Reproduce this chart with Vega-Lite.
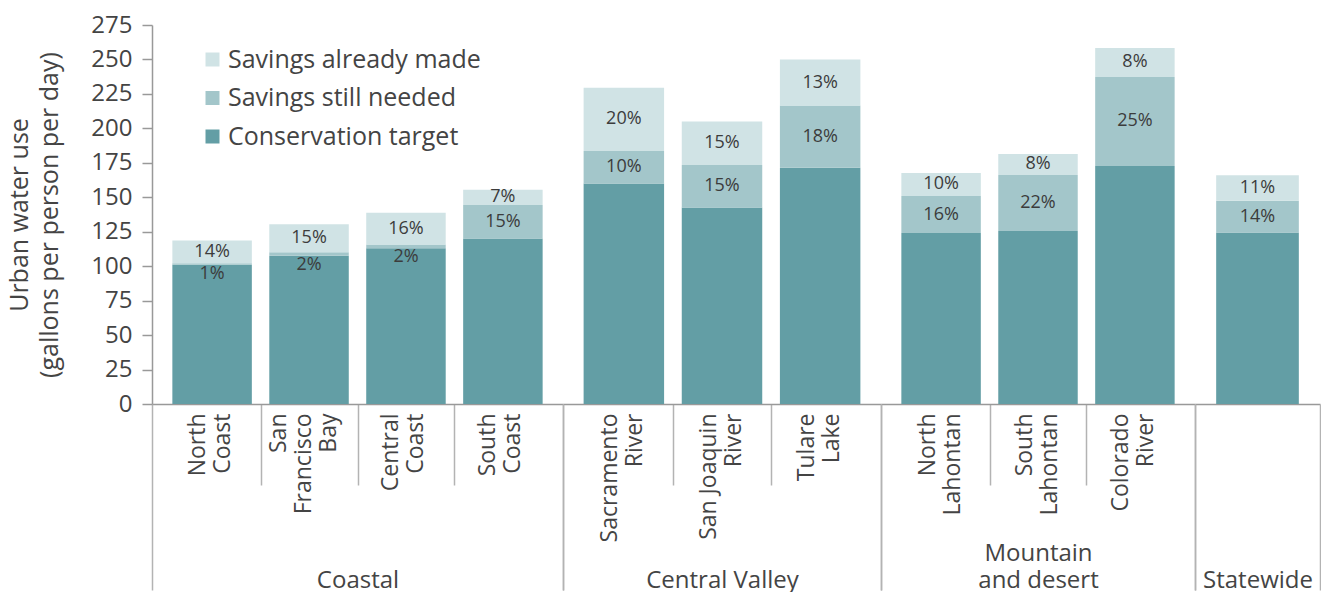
{
  "$schema": "https://vega.github.io/schema/vega-lite/v6.json",
  "padding": {"left": 7, "top": 13, "right": 0, "bottom": 0},
  "data": {"values": [
    {"region": "North Coast", "group": "Coastal", "category": "Conservation target", "value": 101, "label": null},
    {"region": "North Coast", "group": "Coastal", "category": "Savings still needed", "value": 1.2, "label": "1%"},
    {"region": "North Coast", "group": "Coastal", "category": "Savings already made", "value": 16.5, "label": "14%"},
    {"region": "San Francisco Bay", "group": "Coastal", "category": "Conservation target", "value": 107.5, "label": null},
    {"region": "San Francisco Bay", "group": "Coastal", "category": "Savings still needed", "value": 2.6, "label": "2%"},
    {"region": "San Francisco Bay", "group": "Coastal", "category": "Savings already made", "value": 20.3, "label": "15%"},
    {"region": "Central Coast", "group": "Coastal", "category": "Conservation target", "value": 113, "label": null},
    {"region": "Central Coast", "group": "Coastal", "category": "Savings still needed", "value": 2.8, "label": "2%"},
    {"region": "Central Coast", "group": "Coastal", "category": "Savings already made", "value": 23, "label": "16%"},
    {"region": "South Coast", "group": "Coastal", "category": "Conservation target", "value": 120, "label": null},
    {"region": "South Coast", "group": "Coastal", "category": "Savings still needed", "value": 24.4, "label": "15%"},
    {"region": "South Coast", "group": "Coastal", "category": "Savings already made", "value": 11.1, "label": "7%"},
    {"region": "Sacramento River", "group": "Central Valley", "category": "Conservation target", "value": 160, "label": null},
    {"region": "Sacramento River", "group": "Central Valley", "category": "Savings still needed", "value": 23.5, "label": "10%"},
    {"region": "Sacramento River", "group": "Central Valley", "category": "Savings already made", "value": 46, "label": "20%"},
    {"region": "San Joaquin River", "group": "Central Valley", "category": "Conservation target", "value": 142.5, "label": null},
    {"region": "San Joaquin River", "group": "Central Valley", "category": "Savings still needed", "value": 31, "label": "15%"},
    {"region": "San Joaquin River", "group": "Central Valley", "category": "Savings already made", "value": 31.5, "label": "15%"},
    {"region": "Tulare Lake", "group": "Central Valley", "category": "Conservation target", "value": 171.5, "label": null},
    {"region": "Tulare Lake", "group": "Central Valley", "category": "Savings still needed", "value": 45, "label": "18%"},
    {"region": "Tulare Lake", "group": "Central Valley", "category": "Savings already made", "value": 33.5, "label": "13%"},
    {"region": "North Lahontan", "group": "Mountain and desert", "category": "Conservation target", "value": 124, "label": null},
    {"region": "North Lahontan", "group": "Mountain and desert", "category": "Savings still needed", "value": 27, "label": "16%"},
    {"region": "North Lahontan", "group": "Mountain and desert", "category": "Savings already made", "value": 16.6, "label": "10%"},
    {"region": "South Lahontan", "group": "Mountain and desert", "category": "Conservation target", "value": 125.5, "label": null},
    {"region": "South Lahontan", "group": "Mountain and desert", "category": "Savings still needed", "value": 40.7, "label": "22%"},
    {"region": "South Lahontan", "group": "Mountain and desert", "category": "Savings already made", "value": 15.2, "label": "8%"},
    {"region": "Colorado River", "group": "Mountain and desert", "category": "Conservation target", "value": 172.7, "label": null},
    {"region": "Colorado River", "group": "Mountain and desert", "category": "Savings still needed", "value": 64.6, "label": "25%"},
    {"region": "Colorado River", "group": "Mountain and desert", "category": "Savings already made", "value": 21, "label": "8%"},
    {"region": "Statewide", "group": "Statewide", "category": "Conservation target", "value": 124.5, "label": null},
    {"region": "Statewide", "group": "Statewide", "category": "Savings still needed", "value": 23, "label": "14%"},
    {"region": "Statewide", "group": "Statewide", "category": "Savings already made", "value": 18.5, "label": "11%"}
  ]},
  "transform": [
    {"calculate": "indexof(['Conservation target','Savings still needed','Savings already made'], datum.category)", "as": "ord"},
    {"stack": "value", "groupby": ["region"], "sort": [{"field": "ord", "order": "ascending"}], "as": ["v0", "v1"]},
    {"calculate": "(datum.v0 + datum.v1) / 2", "as": "mid"}
  ],
  "spacing": 0,
  "bounds": "flush",
  "hconcat": [
    {
      "width": 411, "height": 379,
      "transform": [{"filter": "datum.group === 'Coastal'"}],
      "layer": [
        {"layer": [
          {"mark": {"type": "bar", "width": {"band": 0.82}},
           "encoding": {
             "x": {"field": "region", "type": "nominal", "sort": ["North Coast", "San Francisco Bay", "Central Coast", "South Coast"], "scale": {"paddingInner": 0, "paddingOuter": 0.12},
               "axis": {"title": null, "orient": "bottom", "labelAngle": -90, "labelAlign": "right", "labelBaseline": "middle", "labelPadding": -72, "labelFontSize": 23, "labelLineHeight": 25, "labelColor": "#444", "labelOffset": {"condition": {"test": "datum.value == 'San Francisco Bay'", "value": -31}, "value": -15}, "tickBand": "extent", "tickSize": 81, "tickColor": "#b3b3b3", "tickWidth": 1.5, "tickOpacity": {"condition": {"test": "datum.index >= 0 && datum.index < 0.99", "value": 1}, "value": 0}, "domainColor": "#999", "domainWidth": 1.5,
                 "labelExpr": "datum.label == 'San Francisco Bay' ? ['San','Francisco','Bay'] : split(datum.label, ' ')"}},
             "y": {"field": "v0", "type": "quantitative", "scale": {"domain": [0, 275], "nice": false},
               "axis": {"title": ["Urban water use", "(gallons per person per day)"], "values": [0, 25, 50, 75, 100, 125, 150, 175, 200, 225, 250, 275], "grid": false, "tickSize": 10, "tickColor": "#999", "tickWidth": 1.5, "domainColor": "#999", "domainWidth": 1.5, "labelFontSize": 24, "labelColor": "#444", "labelPadding": 10, "labelFlush": false, "labelOverlap": false, "titleFontSize": 25, "titleFontWeight": "normal", "titleColor": "#444", "titlePadding": 28, "titleLineHeight": 30}},
             "y2": {"field": "v1"},
             "color": {"field": "category", "type": "nominal", "scale": {"domain": ["Savings already made", "Savings still needed", "Conservation target"], "range": ["#d0e3e5", "#a3c6ca", "#639ea5"]},
               "legend": {"title": null, "orient": "none", "legendX": 48, "legendY": 22, "symbolType": "square", "symbolSize": 196, "symbolStrokeWidth": 0, "labelFontSize": 25, "labelColor": "#444", "labelOffset": 3, "rowPadding": 12.5, "labelLimit": 400}}
           }},
          {"transform": [{"filter": "datum.label != null && datum.value >= 8"}],
           "mark": {"type": "text", "fontSize": 18, "color": "#3c3c3c"},
           "encoding": {"x": {"field": "region", "type": "nominal", "sort": ["North Coast", "San Francisco Bay", "Central Coast", "South Coast"]},
             "y": {"field": "mid", "type": "quantitative", "axis": {"title": ["Urban water use", "(gallons per person per day)"], "values": [0, 25, 50, 75, 100, 125, 150, 175, 200, 225, 250, 275], "grid": false, "tickSize": 10, "tickColor": "#999", "tickWidth": 1.5, "domainColor": "#999", "domainWidth": 1.5, "labelFontSize": 24, "labelColor": "#444", "labelPadding": 10, "labelFlush": false, "labelOverlap": false, "titleFontSize": 25, "titleFontWeight": "normal", "titleColor": "#444", "titlePadding": 28, "titleLineHeight": 30}},
             "text": {"field": "label"}}},
          {"transform": [{"filter": "datum.label != null && datum.value < 8"}],
           "mark": {"type": "text", "fontSize": 18, "color": "#3c3c3c", "baseline": "top", "dy": 0},
           "encoding": {"x": {"field": "region", "type": "nominal", "sort": ["North Coast", "San Francisco Bay", "Central Coast", "South Coast"]},
             "y": {"field": "v0", "type": "quantitative", "axis": {"title": ["Urban water use", "(gallons per person per day)"], "values": [0, 25, 50, 75, 100, 125, 150, 175, 200, 225, 250, 275], "grid": false, "tickSize": 10, "tickColor": "#999", "tickWidth": 1.5, "domainColor": "#999", "domainWidth": 1.5, "labelFontSize": 24, "labelColor": "#444", "labelPadding": 10, "labelFlush": false, "labelOverlap": false, "titleFontSize": 25, "titleFontWeight": "normal", "titleColor": "#444", "titlePadding": 28, "titleLineHeight": 30}},
             "text": {"field": "label"}}}
        ]},
        {"mark": {"type": "point", "opacity": 0},
         "encoding": {"x": {"field": "group", "type": "nominal", "scale": {"type": "band", "paddingInner": 0, "paddingOuter": 0},
           "axis": {"title": null, "orient": "bottom", "domain": false, "tickBand": "extent", "tickSize": 186, "tickColor": "#b3b3b3", "tickWidth": 1.5, "labelAngle": 0, "labelAlign": "center", "labelBaseline": "bottom", "labelPadding": -25, "labelFontSize": 24, "labelLineHeight": 27, "labelColor": "#444", "labelExpr": "datum.label == 'Mountain and desert' ? ['Mountain','and desert'] : ['', datum.label]"}}}}
      ],
      "resolve": {"scale": {"x": "independent"}, "axis": {"x": "independent"}}
    },
    {
      "width": 318, "height": 379,
      "transform": [{"filter": "datum.group === 'Central Valley'"}],
      "layer": [
        {"layer": [
          {"mark": {"type": "bar", "width": {"band": 0.82}},
           "encoding": {
             "x": {"field": "region", "type": "nominal", "sort": ["Sacramento River", "San Joaquin River", "Tulare Lake"], "scale": {"paddingInner": 0, "paddingOuter": 0.12},
               "axis": {"title": null, "orient": "bottom", "labelAngle": -90, "labelAlign": "right", "labelBaseline": "middle", "labelPadding": -72, "labelFontSize": 23, "labelLineHeight": 25, "labelColor": "#444", "labelOffset": -14, "tickBand": "extent", "tickSize": 81, "tickColor": "#b3b3b3", "tickWidth": 1.5, "tickOpacity": {"condition": {"test": "datum.index >= 0 && datum.index < 0.99", "value": 1}, "value": 0}, "domainColor": "#999", "domainWidth": 1.5,
                 "labelExpr": "datum.label == 'San Joaquin River' ? ['San Joaquin','River'] : split(datum.label, ' ')"}},
             "y": {"field": "v0", "type": "quantitative", "scale": {"domain": [0, 275], "nice": false}, "axis": null},
             "y2": {"field": "v1"},
             "color": {"field": "category", "type": "nominal", "scale": {"domain": ["Savings already made", "Savings still needed", "Conservation target"], "range": ["#d0e3e5", "#a3c6ca", "#639ea5"]}, "legend": null}
           }},
          {"transform": [{"filter": "datum.label != null && datum.value >= 8"}],
           "mark": {"type": "text", "fontSize": 18, "color": "#3c3c3c"},
           "encoding": {"x": {"field": "region", "type": "nominal", "sort": ["Sacramento River", "San Joaquin River", "Tulare Lake"]}, "y": {"field": "mid", "type": "quantitative", "axis": null}, "text": {"field": "label"}}}
        ]},
        {"mark": {"type": "point", "opacity": 0},
         "encoding": {"x": {"field": "group", "type": "nominal", "scale": {"type": "band", "paddingInner": 0, "paddingOuter": 0},
           "axis": {"title": null, "orient": "bottom", "domain": false, "tickBand": "extent", "tickSize": 186, "tickColor": "#b3b3b3", "tickWidth": 1.5, "labelAngle": 0, "labelAlign": "center", "labelBaseline": "bottom", "labelPadding": -25, "labelFontSize": 24, "labelLineHeight": 27, "labelColor": "#444", "labelExpr": "datum.label == 'Mountain and desert' ? ['Mountain','and desert'] : ['', datum.label]"}}}}
      ],
      "resolve": {"scale": {"x": "independent"}, "axis": {"x": "independent"}}
    },
    {
      "width": 314, "height": 379,
      "transform": [{"filter": "datum.group === 'Mountain and desert'"}],
      "layer": [
        {"layer": [
          {"mark": {"type": "bar", "width": {"band": 0.82}},
           "encoding": {
             "x": {"field": "region", "type": "nominal", "sort": ["North Lahontan", "South Lahontan", "Colorado River"], "scale": {"paddingInner": 0, "paddingOuter": 0.12},
               "axis": {"title": null, "orient": "bottom", "labelAngle": -90, "labelAlign": "right", "labelBaseline": "middle", "labelPadding": -72, "labelFontSize": 23, "labelLineHeight": 25, "labelColor": "#444", "labelOffset": -14, "tickBand": "extent", "tickSize": 81, "tickColor": "#b3b3b3", "tickWidth": 1.5, "tickOpacity": {"condition": {"test": "datum.index >= 0 && datum.index < 0.99", "value": 1}, "value": 0}, "domainColor": "#999", "domainWidth": 1.5,
                 "labelExpr": "split(datum.label, ' ')"}},
             "y": {"field": "v0", "type": "quantitative", "scale": {"domain": [0, 275], "nice": false}, "axis": null},
             "y2": {"field": "v1"},
             "color": {"field": "category", "type": "nominal", "scale": {"domain": ["Savings already made", "Savings still needed", "Conservation target"], "range": ["#d0e3e5", "#a3c6ca", "#639ea5"]}, "legend": null}
           }},
          {"transform": [{"filter": "datum.label != null && datum.value >= 8"}],
           "mark": {"type": "text", "fontSize": 18, "color": "#3c3c3c"},
           "encoding": {"x": {"field": "region", "type": "nominal", "sort": ["North Lahontan", "South Lahontan", "Colorado River"]}, "y": {"field": "mid", "type": "quantitative", "axis": null}, "text": {"field": "label"}}}
        ]},
        {"mark": {"type": "point", "opacity": 0},
         "encoding": {"x": {"field": "group", "type": "nominal", "scale": {"type": "band", "paddingInner": 0, "paddingOuter": 0},
           "axis": {"title": null, "orient": "bottom", "domain": false, "tickBand": "extent", "tickSize": 186, "tickColor": "#b3b3b3", "tickWidth": 1.5, "labelAngle": 0, "labelAlign": "center", "labelBaseline": "bottom", "labelPadding": -25, "labelFontSize": 24, "labelLineHeight": 27, "labelColor": "#444", "labelExpr": "datum.label == 'Mountain and desert' ? ['Mountain','and desert'] : ['', datum.label]"}}}}
      ],
      "resolve": {"scale": {"x": "independent"}, "axis": {"x": "independent"}}
    },
    {
      "width": 125, "height": 379,
      "transform": [{"filter": "datum.group === 'Statewide'"}],
      "layer": [
        {"layer": [
          {"mark": {"type": "bar", "width": {"band": 0.82}},
           "encoding": {
             "x": {"field": "region", "type": "nominal", "scale": {"paddingInner": 0, "paddingOuter": 0.12},
               "axis": {"title": null, "orient": "bottom", "labels": false, "ticks": false, "domainColor": "#999", "domainWidth": 1.5}},
             "y": {"field": "v0", "type": "quantitative", "scale": {"domain": [0, 275], "nice": false}, "axis": null},
             "y2": {"field": "v1"},
             "color": {"field": "category", "type": "nominal", "scale": {"domain": ["Savings already made", "Savings still needed", "Conservation target"], "range": ["#d0e3e5", "#a3c6ca", "#639ea5"]}, "legend": null}
           }},
          {"transform": [{"filter": "datum.label != null && datum.value >= 8"}],
           "mark": {"type": "text", "fontSize": 18, "color": "#3c3c3c"},
           "encoding": {"x": {"field": "region", "type": "nominal"}, "y": {"field": "mid", "type": "quantitative", "axis": null}, "text": {"field": "label"}}}
        ]},
        {"mark": {"type": "point", "opacity": 0},
         "encoding": {"x": {"field": "group", "type": "nominal", "scale": {"type": "band", "paddingInner": 0, "paddingOuter": 0},
           "axis": {"title": null, "orient": "bottom", "domain": false, "tickBand": "extent", "tickSize": 186, "tickColor": "#b3b3b3", "tickWidth": 1.5, "labelAngle": 0, "labelAlign": "center", "labelBaseline": "bottom", "labelPadding": -25, "labelFontSize": 24, "labelLineHeight": 27, "labelColor": "#444", "labelExpr": "datum.label == 'Mountain and desert' ? ['Mountain','and desert'] : ['', datum.label]"}}}}
      ],
      "resolve": {"scale": {"x": "independent"}, "axis": {"x": "independent"}}
    }
  ],
  "config": {
    "font": "Open Sans",
    "view": {"stroke": null}
  }
}
